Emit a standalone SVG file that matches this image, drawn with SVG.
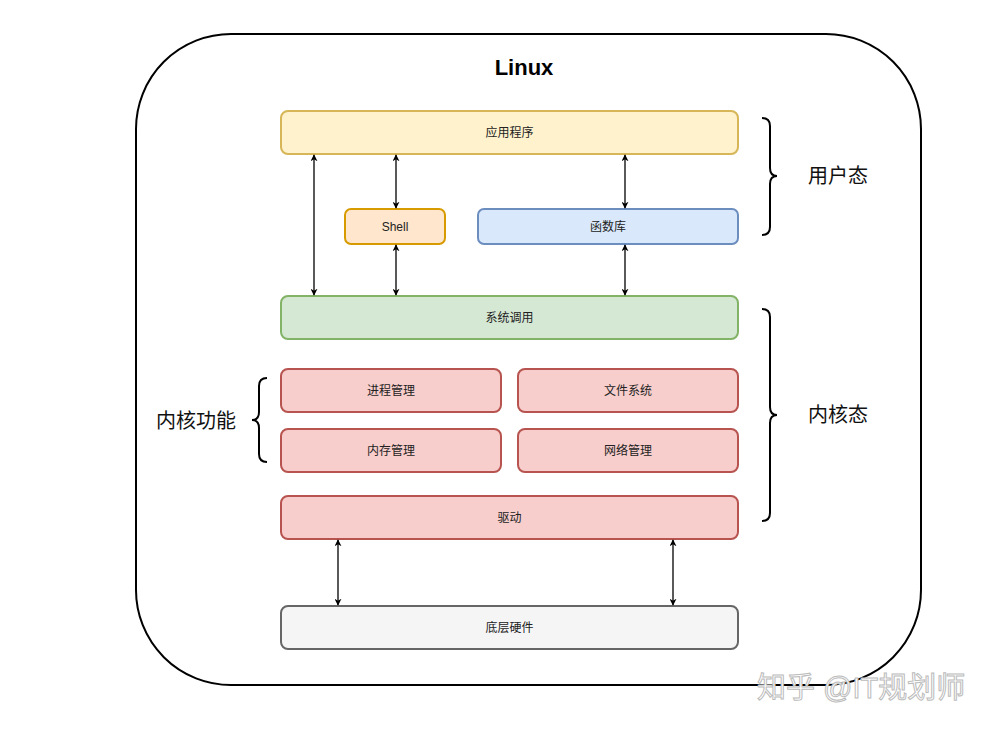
<svg xmlns="http://www.w3.org/2000/svg" width="991" height="729" viewBox="0 0 991 729">
<defs>
<style>
.t{font-family:"Liberation Sans","Noto Sans CJK SC",sans-serif;font-size:12px;fill:#222;text-anchor:middle;dominant-baseline:central}
.big{font-family:"Liberation Sans","Noto Sans CJK SC",sans-serif;font-size:20px;fill:#111;text-anchor:middle;dominant-baseline:central}
.box{stroke-width:2}
.y{fill:#fff2cc;stroke:#d6b656}
.o{fill:#ffe6cc;stroke:#d79b00}
.b{fill:#dae8fc;stroke:#6c8ebf}
.g{fill:#d5e8d4;stroke:#82b366}
.r{fill:#f8cecc;stroke:#b85450}
.gr{fill:#f5f5f5;stroke:#666666}
.c{stroke:#000;stroke-width:1.3;fill:none;marker-start:url(#ah);marker-end:url(#ah)}
.br{stroke:#000;stroke-width:2;fill:none}
</style>
<marker id="ah" viewBox="0 0 10 10" refX="9" refY="5" markerWidth="7" markerHeight="7" orient="auto-start-reverse" markerUnits="userSpaceOnUse">
<path d="M0,0 L10,5 L0,10 L3,5 Z" fill="#000"/>
</marker>
</defs>
<rect width="991" height="729" fill="#fff"/>
<g id="frame">
<rect x="136" y="34" width="785" height="651" rx="95" ry="95" fill="none" stroke="#000" stroke-width="2"/>
<text x="524" y="67" font-family="Liberation Sans, sans-serif" font-size="22" font-weight="bold" text-anchor="middle" dominant-baseline="central" fill="#000">Linux</text>
</g>
<g id="n-app"><rect class="box y" x="281" y="111" width="457" height="43" rx="7"/><text class="t" x="509.5" y="132.5">应用程序</text></g>
<g id="n-shell"><rect class="box o" x="345" y="209" width="100" height="35" rx="6"/><text class="t" x="395" y="226.5">Shell</text></g>
<g id="n-lib"><rect class="box b" x="478" y="209" width="260" height="35" rx="6"/><text class="t" x="608" y="226.5">函数库</text></g>
<g id="n-syscall"><rect class="box g" x="281" y="296" width="457" height="43" rx="7"/><text class="t" x="509.5" y="317.5">系统调用</text></g>
<g id="n-proc"><rect class="box r" x="281" y="369" width="220" height="43" rx="7"/><text class="t" x="391" y="390.5">进程管理</text></g>
<g id="n-fs"><rect class="box r" x="518" y="369" width="220" height="43" rx="7"/><text class="t" x="628" y="390.5">文件系统</text></g>
<g id="n-mem"><rect class="box r" x="281" y="429" width="220" height="43" rx="7"/><text class="t" x="391" y="450.5">内存管理</text></g>
<g id="n-net"><rect class="box r" x="518" y="429" width="220" height="43" rx="7"/><text class="t" x="628" y="450.5">网络管理</text></g>
<g id="n-drv"><rect class="box r" x="281" y="496" width="457" height="43" rx="7"/><text class="t" x="509.5" y="517.5">驱动</text></g>
<g id="n-hw"><rect class="box gr" x="281" y="606" width="457" height="43" rx="7"/><text class="t" x="509.5" y="627.5">底层硬件</text></g>
<g id="connectors">
<line class="c" x1="314" y1="155" x2="314" y2="295"/>
<line class="c" x1="396" y1="155" x2="396" y2="208"/>
<line class="c" x1="396" y1="245" x2="396" y2="295"/>
<line class="c" x1="625" y1="155" x2="625" y2="208"/>
<line class="c" x1="625" y1="245" x2="625" y2="295"/>
<line class="c" x1="338" y1="540" x2="338" y2="605"/>
<line class="c" x1="673" y1="540" x2="673" y2="605"/>
</g>
<g id="braces">
<path class="br" d="M762,118 Q770,118 770,126 L770,168 Q770,176 777,176 Q770,176 770,184 L770,227 Q770,235 762,235"/>
<path class="br" d="M762,309 Q770,309 770,317 L770,407 Q770,415 777,415 Q770,415 770,423 L770,513 Q770,521 762,521"/>
<path class="br" d="M267,378 Q259,378 259,386 L259,412 Q259,420 252,420 Q259,420 259,428 L259,454 Q259,462 267,462"/>
</g>
<g id="labels">
<text class="big" x="838" y="176">用户态</text>
<text class="big" x="838" y="415">内核态</text>
<text class="big" x="196" y="421">内核功能</text>
</g>
<g id="watermark">
<text x="757" y="688" font-family="Liberation Sans, Noto Sans CJK SC, sans-serif" font-size="29" fill="#fff" stroke="#bbb" stroke-width="1" dominant-baseline="central">知乎 @IT规划师</text>
</g>
</svg>
